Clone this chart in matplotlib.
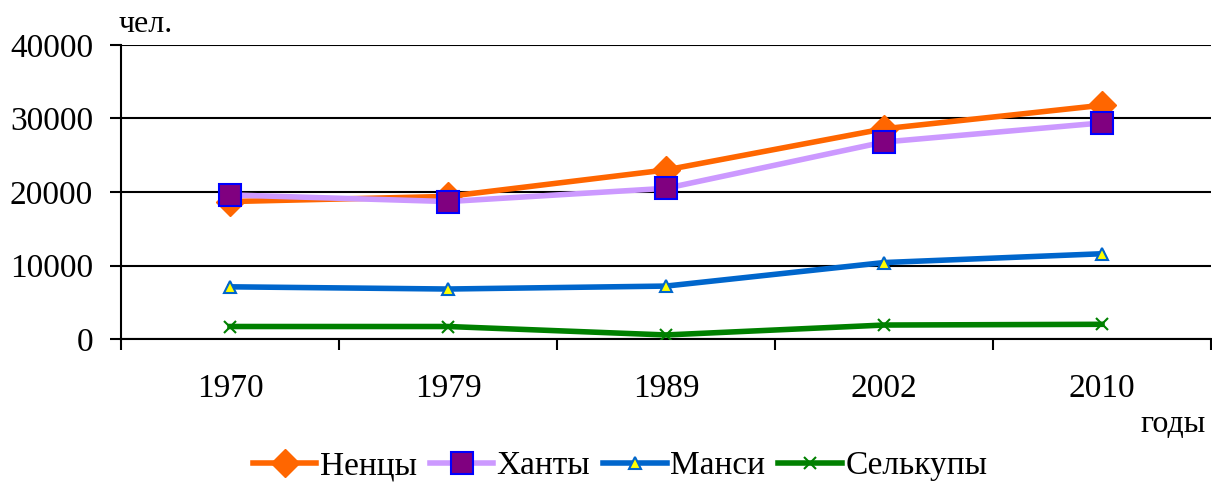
import matplotlib
matplotlib.use("Agg")
import matplotlib.pyplot as plt
import numpy as np

# data
years = ["1970", "1979", "1989", "2002", "2010"]
nentsy = [18700, 19400, 23000, 28600, 31800]
khanty = [19600, 18700, 20500, 26800, 29400]
mansi = [7100, 6800, 7200, 10400, 11600]
selkupy = [1700, 1700, 550, 1900, 2000]

plt.rcParams["font.family"] = ["Liberation Serif", "DejaVu Serif"]
plt.rcParams["font.size"] = 24

fig = plt.figure(figsize=(12.12, 4.84), dpi=100)
ax = fig.add_axes([121 / 1212, 1 - 339 / 484, 1090 / 1212, 294 / 484])

x = np.arange(len(years))
ax.plot(x, mansi, color="#0066CC", lw=4, marker="^", ms=8,
        mfc="#FFFF00", mec="#0066CC", mew=1.5, label="Манси", zorder=3)
ax.plot(x, selkupy, color="#008000", lw=4, marker="x", ms=9,
        mec="#008000", mew=1.5, label="Селькупы", zorder=3)
ax.plot(x, nentsy, color="#FF6600", lw=4, marker="D", ms=14,
        mfc="#FF6600", mec="#FF6600", label="Ненцы", zorder=4)
ax.plot(x, khanty, color="#CC99FF", lw=4, marker="s", ms=16,
        mfc="#800080", mec="#0000FF", mew=1.5, label="Ханты", zorder=5)

ax.set_xlim(-0.5, len(years) - 0.5)
ax.set_ylim(0, 40000)
ax.set_yticks([0, 10000, 20000, 30000, 40000])
ax.yaxis.grid(True, color="black", lw=1.5)
ax.set_axisbelow(True)

# category ticks sit between groups, labels in the middle
ax.set_xticks(np.arange(-0.5, len(years)), labels=[""] * (len(years) + 1))
ax.set_xticks(x, labels=years, minor=True)
ax.tick_params(axis="x", which="major", length=8, width=1.5, direction="out")
ax.tick_params(axis="x", which="minor", length=0, pad=25)
ax.tick_params(axis="y", length=8, width=1.5, pad=12)

for side in ["top", "right"]:
    ax.spines[side].set_visible(False)
ax.spines["left"].set_linewidth(1.5)
ax.spines["bottom"].set_linewidth(1.5)

fig.text(119 / 1212, 1 - 24 / 484, "чел.", ha="left", va="center", fontsize=23)
fig.text(1206 / 1212, 1 - 425 / 484, "годы", ha="right", va="center", fontsize=23)

handles, labels = ax.get_legend_handles_labels()
order = [2, 3, 0, 1]
ax.legend([handles[i] for i in order], [labels[i] for i in order],
          loc="center", bbox_to_anchor=(620 / 1212, 1 - 466 / 484),
          bbox_transform=fig.transFigure, ncol=4, frameon=False,
          handlelength=1.9, handletextpad=0.1, columnspacing=0.4,
          fontsize=24)

fig.savefig("out.png", dpi=100)
